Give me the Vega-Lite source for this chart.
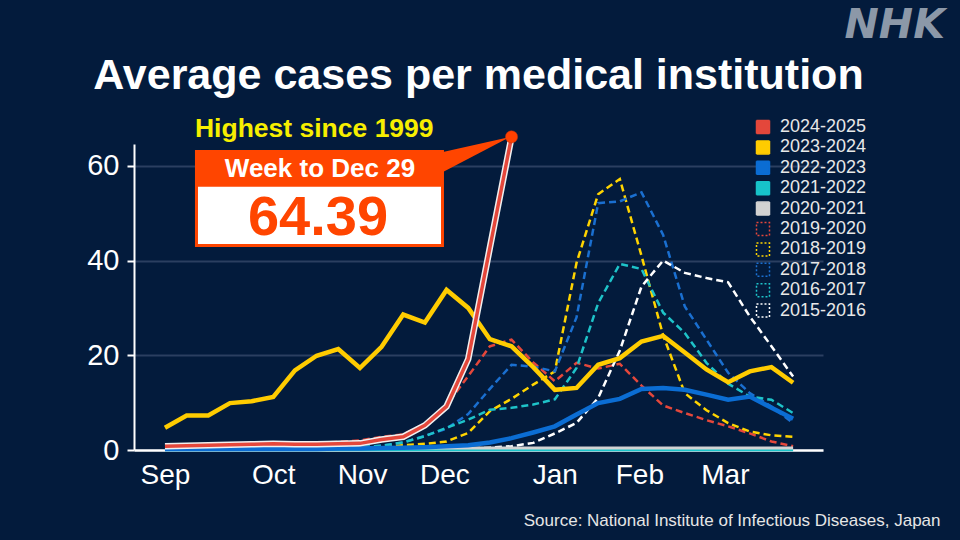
{
  "$schema": "https://vega.github.io/schema/vega-lite/v6.json",
  "autosize": {"type": "none"},
  "width": 689,
  "height": 306,
  "padding": {"left": 134, "top": 144, "right": 137, "bottom": 90},
  "background": "#031b3c",
  "config": {"view": {"stroke": null}},
  "title": {
    "text": "Average cases per medical institution",
    "font": "Liberation Sans",
    "fontSize": 43,
    "fontWeight": "bold",
    "color": "#ffffff",
    "anchor": "middle",
    "frame": "group",
    "baseline": "alphabetic",
    "offset": -127
  },
  "datasets": {
    "flu": [
      {"season":"2024-2025","week":0,"cases":0.8},{"season":"2024-2025","week":1,"cases":0.9},{"season":"2024-2025","week":2,"cases":1.0},{"season":"2024-2025","week":3,"cases":1.1},{"season":"2024-2025","week":4,"cases":1.2},{"season":"2024-2025","week":5,"cases":1.3},{"season":"2024-2025","week":6,"cases":1.2},{"season":"2024-2025","week":7,"cases":1.2},{"season":"2024-2025","week":8,"cases":1.3},{"season":"2024-2025","week":9,"cases":1.4},{"season":"2024-2025","week":10,"cases":2.2},{"season":"2024-2025","week":11,"cases":2.8},{"season":"2024-2025","week":12,"cases":5.2},{"season":"2024-2025","week":13,"cases":9.2},{"season":"2024-2025","week":14,"cases":19.2},{"season":"2024-2025","week":15,"cases":42.7},{"season":"2024-2025","week":16,"cases":66.1},
      {"season":"2023-2024","week":0,"cases":4.7},{"season":"2023-2024","week":1,"cases":7.3},{"season":"2023-2024","week":2,"cases":7.3},{"season":"2023-2024","week":3,"cases":9.9},{"season":"2023-2024","week":4,"cases":10.3},{"season":"2023-2024","week":5,"cases":11.2},{"season":"2023-2024","week":6,"cases":16.8},{"season":"2023-2024","week":7,"cases":19.9},{"season":"2023-2024","week":8,"cases":21.3},{"season":"2023-2024","week":9,"cases":17.3},{"season":"2023-2024","week":10,"cases":21.8},{"season":"2023-2024","week":11,"cases":28.6},{"season":"2023-2024","week":12,"cases":26.9},{"season":"2023-2024","week":13,"cases":33.8},{"season":"2023-2024","week":14,"cases":30.0},{"season":"2023-2024","week":15,"cases":23.4},{"season":"2023-2024","week":16,"cases":21.9},{"season":"2023-2024","week":17,"cases":17.5},{"season":"2023-2024","week":18,"cases":12.7},{"season":"2023-2024","week":19,"cases":13.1},{"season":"2023-2024","week":20,"cases":18.0},{"season":"2023-2024","week":21,"cases":19.4},{"season":"2023-2024","week":22,"cases":22.9},{"season":"2023-2024","week":23,"cases":24.1},{"season":"2023-2024","week":24,"cases":20.6},{"season":"2023-2024","week":25,"cases":17.0},{"season":"2023-2024","week":26,"cases":14.3},{"season":"2023-2024","week":27,"cases":16.6},{"season":"2023-2024","week":28,"cases":17.5},{"season":"2023-2024","week":29,"cases":14.2},
      {"season":"2022-2023","week":0,"cases":0.2},{"season":"2022-2023","week":1,"cases":0.2},{"season":"2022-2023","week":2,"cases":0.2},{"season":"2022-2023","week":3,"cases":0.2},{"season":"2022-2023","week":4,"cases":0.2},{"season":"2022-2023","week":5,"cases":0.2},{"season":"2022-2023","week":6,"cases":0.2},{"season":"2022-2023","week":7,"cases":0.2},{"season":"2022-2023","week":8,"cases":0.3},{"season":"2022-2023","week":9,"cases":0.3},{"season":"2022-2023","week":10,"cases":0.4},{"season":"2022-2023","week":11,"cases":0.5},{"season":"2022-2023","week":12,"cases":0.6},{"season":"2022-2023","week":13,"cases":0.8},{"season":"2022-2023","week":14,"cases":1.0},{"season":"2022-2023","week":15,"cases":1.6},{"season":"2022-2023","week":16,"cases":2.5},{"season":"2022-2023","week":17,"cases":3.7},{"season":"2022-2023","week":18,"cases":5.0},{"season":"2022-2023","week":19,"cases":7.5},{"season":"2022-2023","week":20,"cases":9.9},{"season":"2022-2023","week":21,"cases":10.8},{"season":"2022-2023","week":22,"cases":12.9},{"season":"2022-2023","week":23,"cases":13.1},{"season":"2022-2023","week":24,"cases":12.7},{"season":"2022-2023","week":25,"cases":11.7},{"season":"2022-2023","week":26,"cases":10.6},{"season":"2022-2023","week":27,"cases":11.3},{"season":"2022-2023","week":28,"cases":8.9},{"season":"2022-2023","week":29,"cases":6.6},
      {"season":"2021-2022","week":0,"cases":0.05},{"season":"2021-2022","week":1,"cases":0.05},{"season":"2021-2022","week":2,"cases":0.05},{"season":"2021-2022","week":3,"cases":0.05},{"season":"2021-2022","week":4,"cases":0.05},{"season":"2021-2022","week":5,"cases":0.05},{"season":"2021-2022","week":6,"cases":0.05},{"season":"2021-2022","week":7,"cases":0.05},{"season":"2021-2022","week":8,"cases":0.05},{"season":"2021-2022","week":9,"cases":0.05},{"season":"2021-2022","week":10,"cases":0.05},{"season":"2021-2022","week":11,"cases":0.05},{"season":"2021-2022","week":12,"cases":0.05},{"season":"2021-2022","week":13,"cases":0.05},{"season":"2021-2022","week":14,"cases":0.05},{"season":"2021-2022","week":15,"cases":0.05},{"season":"2021-2022","week":16,"cases":0.05},{"season":"2021-2022","week":17,"cases":0.05},{"season":"2021-2022","week":18,"cases":0.05},{"season":"2021-2022","week":19,"cases":0.05},{"season":"2021-2022","week":20,"cases":0.05},{"season":"2021-2022","week":21,"cases":0.05},{"season":"2021-2022","week":22,"cases":0.05},{"season":"2021-2022","week":23,"cases":0.05},{"season":"2021-2022","week":24,"cases":0.05},{"season":"2021-2022","week":25,"cases":0.05},{"season":"2021-2022","week":26,"cases":0.05},{"season":"2021-2022","week":27,"cases":0.05},{"season":"2021-2022","week":28,"cases":0.05},{"season":"2021-2022","week":29,"cases":0.05},
      {"season":"2020-2021","week":0,"cases":0.4},{"season":"2020-2021","week":1,"cases":0.4},{"season":"2020-2021","week":2,"cases":0.4},{"season":"2020-2021","week":3,"cases":0.4},{"season":"2020-2021","week":4,"cases":0.4},{"season":"2020-2021","week":5,"cases":0.4},{"season":"2020-2021","week":6,"cases":0.4},{"season":"2020-2021","week":7,"cases":0.4},{"season":"2020-2021","week":8,"cases":0.4},{"season":"2020-2021","week":9,"cases":0.4},{"season":"2020-2021","week":10,"cases":0.4},{"season":"2020-2021","week":11,"cases":0.4},{"season":"2020-2021","week":12,"cases":0.4},{"season":"2020-2021","week":13,"cases":0.4},{"season":"2020-2021","week":14,"cases":0.4},{"season":"2020-2021","week":15,"cases":0.4},{"season":"2020-2021","week":16,"cases":0.4},{"season":"2020-2021","week":17,"cases":0.4},{"season":"2020-2021","week":18,"cases":0.4},{"season":"2020-2021","week":19,"cases":0.4},{"season":"2020-2021","week":20,"cases":0.4},{"season":"2020-2021","week":21,"cases":0.4},{"season":"2020-2021","week":22,"cases":0.4},{"season":"2020-2021","week":23,"cases":0.4},{"season":"2020-2021","week":24,"cases":0.4},{"season":"2020-2021","week":25,"cases":0.4},{"season":"2020-2021","week":26,"cases":0.4},{"season":"2020-2021","week":27,"cases":0.4},{"season":"2020-2021","week":28,"cases":0.4},{"season":"2020-2021","week":29,"cases":0.4},
      {"season":"2019-2020","week":0,"cases":0.9},{"season":"2019-2020","week":1,"cases":1.0},{"season":"2019-2020","week":2,"cases":1.0},{"season":"2019-2020","week":3,"cases":1.1},{"season":"2019-2020","week":4,"cases":1.2},{"season":"2019-2020","week":5,"cases":1.3},{"season":"2019-2020","week":6,"cases":1.4},{"season":"2019-2020","week":7,"cases":1.5},{"season":"2019-2020","week":8,"cases":1.7},{"season":"2019-2020","week":9,"cases":2.0},{"season":"2019-2020","week":10,"cases":2.8},{"season":"2019-2020","week":11,"cases":3.3},{"season":"2019-2020","week":12,"cases":5.5},{"season":"2019-2020","week":13,"cases":9.5},{"season":"2019-2020","week":14,"cases":15.6},{"season":"2019-2020","week":15,"cases":21.9},{"season":"2019-2020","week":16,"cases":23.3},{"season":"2019-2020","week":17,"cases":18.5},{"season":"2019-2020","week":18,"cases":14.5},{"season":"2019-2020","week":19,"cases":18.4},{"season":"2019-2020","week":20,"cases":17.2},{"season":"2019-2020","week":21,"cases":18.2},{"season":"2019-2020","week":22,"cases":13.6},{"season":"2019-2020","week":23,"cases":9.4},{"season":"2019-2020","week":24,"cases":7.8},{"season":"2019-2020","week":25,"cases":6.3},{"season":"2019-2020","week":26,"cases":5.0},{"season":"2019-2020","week":27,"cases":3.5},{"season":"2019-2020","week":28,"cases":1.8},{"season":"2019-2020","week":29,"cases":0.8},
      {"season":"2018-2019","week":0,"cases":0.2},{"season":"2018-2019","week":1,"cases":0.2},{"season":"2018-2019","week":2,"cases":0.2},{"season":"2018-2019","week":3,"cases":0.2},{"season":"2018-2019","week":4,"cases":0.2},{"season":"2018-2019","week":5,"cases":0.2},{"season":"2018-2019","week":6,"cases":0.3},{"season":"2018-2019","week":7,"cases":0.3},{"season":"2018-2019","week":8,"cases":0.4},{"season":"2018-2019","week":9,"cases":0.5},{"season":"2018-2019","week":10,"cases":0.7},{"season":"2018-2019","week":11,"cases":1.0},{"season":"2018-2019","week":12,"cases":1.3},{"season":"2018-2019","week":13,"cases":1.8},{"season":"2018-2019","week":14,"cases":3.6},{"season":"2018-2019","week":15,"cases":8.2},{"season":"2018-2019","week":16,"cases":10.8},{"season":"2018-2019","week":17,"cases":13.8},{"season":"2018-2019","week":18,"cases":16.6},{"season":"2018-2019","week":19,"cases":39.5},{"season":"2018-2019","week":20,"cases":54.0},{"season":"2018-2019","week":21,"cases":57.2},{"season":"2018-2019","week":22,"cases":41.0},{"season":"2018-2019","week":23,"cases":24.2},{"season":"2018-2019","week":24,"cases":12.0},{"season":"2018-2019","week":25,"cases":8.4},{"season":"2018-2019","week":26,"cases":5.7},{"season":"2018-2019","week":27,"cases":3.9},{"season":"2018-2019","week":28,"cases":3.1},{"season":"2018-2019","week":29,"cases":2.8},
      {"season":"2017-2018","week":0,"cases":0.3},{"season":"2017-2018","week":1,"cases":0.3},{"season":"2017-2018","week":2,"cases":0.3},{"season":"2017-2018","week":3,"cases":0.3},{"season":"2017-2018","week":4,"cases":0.3},{"season":"2017-2018","week":5,"cases":0.3},{"season":"2017-2018","week":6,"cases":0.4},{"season":"2017-2018","week":7,"cases":0.4},{"season":"2017-2018","week":8,"cases":0.5},{"season":"2017-2018","week":9,"cases":0.6},{"season":"2017-2018","week":10,"cases":0.9},{"season":"2017-2018","week":11,"cases":1.6},{"season":"2017-2018","week":12,"cases":3.0},{"season":"2017-2018","week":13,"cases":4.5},{"season":"2017-2018","week":14,"cases":7.6},{"season":"2017-2018","week":15,"cases":12.9},{"season":"2017-2018","week":16,"cases":18.0},{"season":"2017-2018","week":17,"cases":17.6},{"season":"2017-2018","week":18,"cases":16.6},{"season":"2017-2018","week":19,"cases":28.0},{"season":"2017-2018","week":20,"cases":52.1},{"season":"2017-2018","week":21,"cases":52.5},{"season":"2017-2018","week":22,"cases":54.4},{"season":"2017-2018","week":23,"cases":45.4},{"season":"2017-2018","week":24,"cases":30.3},{"season":"2017-2018","week":25,"cases":23.3},{"season":"2017-2018","week":26,"cases":16.3},{"season":"2017-2018","week":27,"cases":12.0},{"season":"2017-2018","week":28,"cases":9.2},{"season":"2017-2018","week":29,"cases":5.7},
      {"season":"2016-2017","week":0,"cases":0.2},{"season":"2016-2017","week":1,"cases":0.2},{"season":"2016-2017","week":2,"cases":0.2},{"season":"2016-2017","week":3,"cases":0.2},{"season":"2016-2017","week":4,"cases":0.2},{"season":"2016-2017","week":5,"cases":0.2},{"season":"2016-2017","week":6,"cases":0.3},{"season":"2016-2017","week":7,"cases":0.3},{"season":"2016-2017","week":8,"cases":0.4},{"season":"2016-2017","week":9,"cases":0.6},{"season":"2016-2017","week":10,"cases":0.9},{"season":"2016-2017","week":11,"cases":1.6},{"season":"2016-2017","week":12,"cases":2.9},{"season":"2016-2017","week":13,"cases":4.7},{"season":"2016-2017","week":14,"cases":6.4},{"season":"2016-2017","week":15,"cases":8.5},{"season":"2016-2017","week":16,"cases":8.9},{"season":"2016-2017","week":17,"cases":9.6},{"season":"2016-2017","week":18,"cases":10.7},{"season":"2016-2017","week":19,"cases":17.3},{"season":"2016-2017","week":20,"cases":31.0},{"season":"2016-2017","week":21,"cases":39.3},{"season":"2016-2017","week":22,"cases":38.2},{"season":"2016-2017","week":23,"cases":29.0},{"season":"2016-2017","week":24,"cases":24.7},{"season":"2016-2017","week":25,"cases":18.4},{"season":"2016-2017","week":26,"cases":14.0},{"season":"2016-2017","week":27,"cases":11.3},{"season":"2016-2017","week":28,"cases":10.6},{"season":"2016-2017","week":29,"cases":7.8},
      {"season":"2015-2016","week":0,"cases":0.1},{"season":"2015-2016","week":1,"cases":0.1},{"season":"2015-2016","week":2,"cases":0.1},{"season":"2015-2016","week":3,"cases":0.1},{"season":"2015-2016","week":4,"cases":0.1},{"season":"2015-2016","week":5,"cases":0.1},{"season":"2015-2016","week":6,"cases":0.1},{"season":"2015-2016","week":7,"cases":0.1},{"season":"2015-2016","week":8,"cases":0.1},{"season":"2015-2016","week":9,"cases":0.1},{"season":"2015-2016","week":10,"cases":0.1},{"season":"2015-2016","week":11,"cases":0.1},{"season":"2015-2016","week":12,"cases":0.1},{"season":"2015-2016","week":13,"cases":0.2},{"season":"2015-2016","week":14,"cases":0.3},{"season":"2015-2016","week":15,"cases":0.5},{"season":"2015-2016","week":16,"cases":0.8},{"season":"2015-2016","week":17,"cases":1.5},{"season":"2015-2016","week":18,"cases":3.5},{"season":"2015-2016","week":19,"cases":5.7},{"season":"2015-2016","week":20,"cases":11.0},{"season":"2015-2016","week":21,"cases":21.0},{"season":"2015-2016","week":22,"cases":34.5},{"season":"2015-2016","week":23,"cases":40.0},{"season":"2015-2016","week":24,"cases":37.4},{"season":"2015-2016","week":25,"cases":36.3},{"season":"2015-2016","week":26,"cases":35.4},{"season":"2015-2016","week":27,"cases":28.2},{"season":"2015-2016","week":28,"cases":21.9},{"season":"2015-2016","week":29,"cases":15.5}
    ]
  },
  "data": {"name": "flu"},
  "layer": [
    {
      "encoding": {
        "x": {
          "field": "week", "type": "quantitative",
          "scale": {"domain": [-1.43, 30.38], "nice": false, "zero": false},
          "axis": {
            "values": [0, 5, 9.1, 12.9, 18, 21.9, 25.85],
            "labelExpr": "datum.value < 2 ? 'Sep' : datum.value < 7 ? 'Oct' : datum.value < 11 ? 'Nov' : datum.value < 15 ? 'Dec' : datum.value < 20 ? 'Jan' : datum.value < 24 ? 'Feb' : 'Mar'",
            "ticks": false, "grid": false,
            "domainColor": "#ffffff", "domainWidth": 2.5,
            "labelColor": "#ffffff", "labelFontSize": 28, "labelFont": "Liberation Sans",
            "labelPadding": 11, "labelFlush": false, "labelOverlap": false,
            "title": "Source: National Institute of Infectious Diseases, Japan",
            "titleFont": "Liberation Sans", "titleFontWeight": "normal", "titleFontSize": 17,
            "titleColor": "#e6e6e6", "titleX": 806, "titleY": 75,
            "titleAlign": "right", "titleAnchor": "end", "titleBaseline": "alphabetic"
          }
        },
        "y": {
          "field": "cases", "type": "quantitative",
          "scale": {"domain": [0, 64.6], "nice": false, "zero": true},
          "axis": {
            "values": [0, 20, 40, 60], "title": null,
            "grid": true, "gridColor": "#2b3f60", "gridWidth": 2,
            "domainColor": "#ffffff", "domainWidth": 2,
            "tickColor": "#ffffff", "tickSize": 7, "tickWidth": 2,
            "labelColor": "#ffffff", "labelFontSize": 29, "labelFont": "Liberation Sans", "labelPadding": 8
          }
        }
      },
      "layer": [
        {
          "transform": [{"filter": {"field": "season", "oneOf": ["2019-2020", "2018-2019", "2017-2018", "2016-2017", "2015-2016"]}}],
          "mark": {"type": "line", "strokeWidth": 2.5, "strokeDash": [7, 4]},
          "encoding": {
            "color": {
              "field": "season", "type": "nominal",
              "scale": {
                "domain": ["2024-2025", "2023-2024", "2022-2023", "2021-2022", "2020-2021", "2019-2020", "2018-2019", "2017-2018", "2016-2017", "2015-2016"],
                "range": ["#e4473b", "#ffcc00", "#0b6dd3", "#17c3c9", "#d2d2d2", "#e4473b", "#ffd400", "#1a6fd0", "#1ec3c9", "#ffffff"]
              },
              "legend": {
                "orient": "none", "legendX": 620, "legendY": -26, "title": null,
                "symbolType": "square", "symbolSize": 169, "symbolStrokeWidth": 1.5,
                "labelFontSize": 18, "labelColor": "#e8e8e8", "labelFont": "Liberation Sans",
                "rowPadding": 0.4, "labelOffset": 8, "padding": 0,
                "encode": {
                  "symbols": {
                    "update": {
                      "size": {"value": 169},
                      "shape": {"value": "square"},
                      "fill": {"scale": "color", "field": "value"},
                      "fillOpacity": {"signal": "indexof(['2019-2020','2018-2019','2017-2018','2016-2017','2015-2016'], datum.value) >= 0 ? 0 : 1"},
                      "stroke": {"signal": "indexof(['2019-2020','2018-2019','2017-2018','2016-2017','2015-2016'], datum.value) >= 0 ? scale('color', datum.value) : '#0a1428'"},
                      "strokeDash": {"signal": "indexof(['2019-2020','2018-2019','2017-2018','2016-2017','2015-2016'], datum.value) >= 0 ? [2, 2] : [1, 0]"},
                      "strokeWidth": {"value": 1.5},
                      "opacity": {"value": 1}
                    }
                  }
                }
              }
            }
          }
        },
        {
          "transform": [{"filter": {"field": "season", "oneOf": ["2020-2021", "2021-2022"]}}],
          "mark": {"type": "line", "strokeWidth": 3},
          "encoding": {"color": {"field": "season", "type": "nominal"}}
        },
        {
          "transform": [{"filter": {"field": "season", "oneOf": ["2022-2023", "2023-2024"]}}],
          "mark": {"type": "line", "strokeWidth": 4.5},
          "encoding": {"color": {"field": "season", "type": "nominal"}}
        },
        {
          "transform": [{"filter": {"field": "season", "equal": "2024-2025"}}],
          "mark": {"type": "line", "strokeWidth": 6.5, "color": "#f0f0f0"},
          "encoding": {}
        },
        {
          "transform": [{"filter": {"field": "season", "equal": "2024-2025"}}],
          "mark": {"type": "line", "strokeWidth": 3.5},
          "encoding": {"color": {"field": "season", "type": "nominal"}}
        }
      ]
    },
    {
      "data": {"values": [{}]},
      "mark": {"type": "point", "filled": true, "opacity": 1, "color": "#ff4500", "size": 6400, "shape": "M-0.8375,-0.0625L0.8375,-0.4375L-0.8375,0.4375Z"},
      "encoding": {"x": {"datum": 14.381}, "y": {"datum": 62.38}}
    },
    {
      "data": {"values": [{}]},
      "mark": {"type": "rect", "color": "#ff4500"},
      "encoding": {"x": {"datum": 1.385}, "x2": {"datum": 12.881}, "y": {"datum": 63.33}, "y2": {"datum": 42.85}}
    },
    {
      "data": {"values": [{}]},
      "mark": {"type": "rect", "color": "#ffffff"},
      "encoding": {"x": {"datum": 1.524}, "x2": {"datum": 12.743}, "y": {"datum": 55.57}, "y2": {"datum": 43.49}}
    },
    {
      "data": {"values": [{}]},
      "mark": {"type": "point", "filled": true, "opacity": 1, "color": "#ff4000", "size": 150, "stroke": "#b83010", "strokeWidth": 0.5},
      "encoding": {"x": {"datum": 16}, "y": {"datum": 66.1}}
    },
    {
      "data": {"values": [{}]},
      "mark": {"type": "text", "text": "Highest since 1999", "align": "left", "baseline": "alphabetic", "font": "Liberation Sans", "fontWeight": "bold", "fontSize": 26.5, "color": "#f7ee00"},
      "encoding": {"x": {"datum": 1.385}, "y": {"datum": 66.14}}
    },
    {
      "data": {"values": [{}]},
      "mark": {"type": "text", "text": "Week to Dec 29", "align": "center", "baseline": "alphabetic", "font": "Liberation Sans", "fontWeight": "bold", "fontSize": 26, "color": "#ffffff"},
      "encoding": {"x": {"datum": 7.156}, "y": {"datum": 57.57}}
    },
    {
      "data": {"values": [{}]},
      "mark": {"type": "text", "text": "64.39", "align": "center", "baseline": "alphabetic", "font": "Liberation Sans", "fontWeight": "bold", "fontSize": 56, "color": "#ff4500"},
      "encoding": {"x": {"datum": 7.064}, "y": {"datum": 45.39}}
    },
    {
      "data": {"values": [{}]},
      "mark": {"type": "text", "text": "NHK", "align": "right", "baseline": "alphabetic", "font": "DejaVu Sans", "fontWeight": "bold", "fontStyle": "italic", "fontSize": 41, "color": "#8c98a8"},
      "encoding": {"x": {"datum": 36.01}, "y": {"datum": 86.97}}
    }
  ]
}
